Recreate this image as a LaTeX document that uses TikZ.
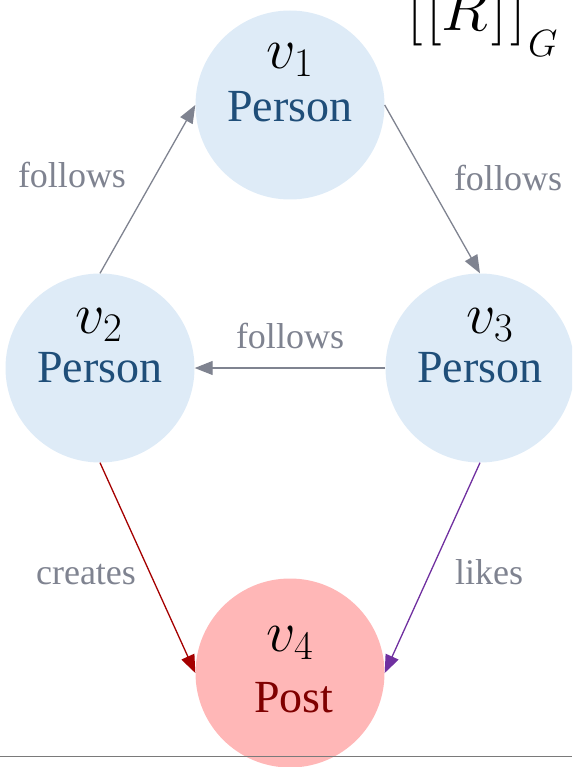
\RequirePackage{fix-cm}
\documentclass[tikz,border=0pt]{standalone}
\usepackage{fontspec}
\setmainfont{Liberation Serif}
\usetikzlibrary{arrows.meta}
\definecolor{nodeblue}{HTML}{DEEBF7}
\definecolor{nodepink}{HTML}{FFB7B7}
\definecolor{textblue}{HTML}{1F4E79}
\definecolor{textred}{HTML}{7F0000}
\definecolor{edgegray}{HTML}{7F8390}
\definecolor{edgered}{HTML}{A50000}
\definecolor{edgepurple}{HTML}{7030A0}
\tikzset{
  vertex/.style={circle, minimum size=189pt, inner sep=0pt, draw=none},
  person/.style={vertex, fill=nodeblue},
  post/.style={vertex, fill=nodepink},
  vname/.style={inner sep=0pt, font=\fontsize{58}{70}\selectfont},
  vtype/.style={inner sep=0pt, font=\fontsize{46}{55}\selectfont},
  elabel/.style={inner sep=0pt, text=edgegray, font=\fontsize{36}{43}\selectfont},
  edge/.style={line width=1.3pt, -{Triangle[length=18pt, width=14pt]}},
}
\begin{document}
\begin{tikzpicture}[x=1pt, y=-1pt]
\useasboundingbox (0,0) rectangle (572,767);
\clip (0,0) rectangle (572,767);

% vertices
\node[person] (v1) at (290,105) {};
\node[person] (v2) at (100,368) {};
\node[person] (v3) at (480,368) {};
\node[post]   (v4) at (290,673) {};

% vertex names and types
\node[vname] (n1) at (290,60)  {$v_1$};
\node[vtype, text=textblue] (t1) at (290,107) {Person};
\node[vname] (n2) at (99,325) {$v_2$};
\node[vtype, text=textblue] (t2) at (100,368) {Person};
\node[vname] (n3) at (490,325) {$v_3$};
\node[vtype, text=textblue] (t3) at (480,368) {Person};
\node[vname] (n4) at (290,643) {$v_4$};
\node[vtype, text=textred] (t4) at (294,698) {Post};

% edges
\draw[edge, edgegray] (v2.north) -- (v1.west);
\draw[edge, edgegray] (v1.east) -- (v3.north);
\draw[edge, edgegray] (v3.west) -- (v2.east);
\draw[edge, edgered] (v2.south) -- (v4.west);
\draw[edge, edgepurple] (v3.south) -- (v4.east);

% edge labels
\node[elabel] (l1) at (72,175)  {follows};
\node[elabel] (l2) at (508,178) {follows};
\node[elabel] (l3) at (290,336) {follows};
\node[elabel] (l4) at (86,575)  {creates};
\node[elabel] (l5) at (489,572) {likes};

% result label: semantics of R over the graph G
\node[inner sep=0pt, anchor=base west, font=\fontsize{62}{74}\selectfont] (res) at (407,31)
  {$\bigl[\mkern1mu\bigl[R\mkern1mu\bigr]\mkern1mu\bigr]$\hspace{2pt}\raisebox{-26pt}{\fontsize{38}{40}\selectfont$G$}};

% baseline rule
\coordinate (ruleL) at (0,756.5);
\coordinate (ruleR) at (572,756.5);
\draw[line width=1.5pt, color=black!52] (ruleL) -- (ruleR);
\end{tikzpicture}
\end{document}
